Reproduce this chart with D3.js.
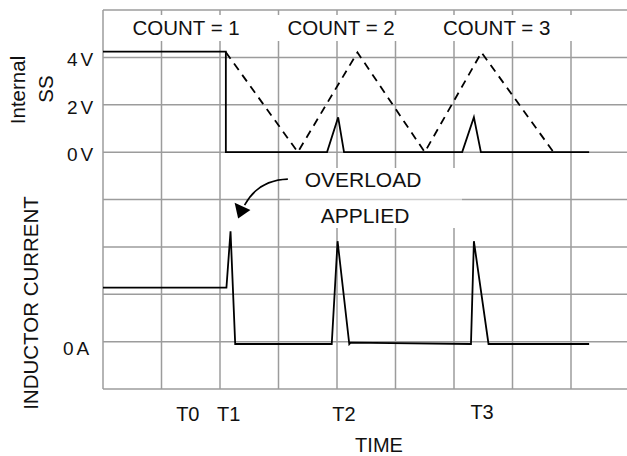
<!DOCTYPE html>
<html>
<head>
<meta charset="utf-8">
<script src="https://cdn.jsdelivr.net/npm/d3@7"></script>
<style>
  body { margin: 0; background: #fff; }
  svg text { font-family: "Liberation Sans", Arial, sans-serif; fill: #111; }
</style>
</head>
<body>
<div id="chart"></div>
<script>
// time is measured in grid columns, vertical position in grid rows
var ssTime      = [0, 2.10, 2.10, 3.83, 4.02, 4.12, 6.14, 6.34, 6.46, 8.31];
var ssVolts     = [4.24, 4.24, 0, 0, 1.47, 0, 0, 1.47, 0, 0];
var rampTime    = [2.10, 3.33, 4.35, 5.50, 6.47, 7.73];
var rampVolts   = [4.22, 0, 4.21, 0, 4.21, -0.1];
var iTime       = [0, 2.11, 2.18, 2.26, 3.91, 4.01, 4.21, 4.23, 6.29, 6.34, 6.59, 8.31];
var iAmps       = [1.14, 1.14, 2.33, -0.05, -0.05, 2.12, -0.05, -0.02, -0.05, 2.12, -0.05, -0.05];
var voltTicks   = [0, 2, 4];
var voltLabels  = ["0V", "2V", "4V"];
var ampTicks    = [0];
var ampLabels   = ["0A"];
var timeLabels  = ["T0", "T1", "T2", "T3"];
var timeTicks   = [1.45, 2.15, 4.12, 6.48];
var countLabels = ["COUNT = 1", "COUNT = 2", "COUNT = 3"];
var countTimes  = [1.42, 4.07, 6.73];
// overload arrow: start, control, end of curve, then head (left, right, tip)
var arrowT = [3.16, 2.65, 2.42, 2.25, 2.52, 2.31];
var arrowR = [4.43, 4.41, 3.88, 3.93, 3.78, 3.60];

var W = 627, H = 456;
var svg = d3.select("#chart").append("svg").attr("width", W).attr("height", H);

var x = d3.scaleLinear().domain([0, 9]).range([103, 629.5]);
var row = d3.scaleLinear().domain([0, 8]).range([389, 10]);
var volt = d3.scaleLinear().domain([0, 4]).range([row(5), row(7)]);
var amp = d3.scaleLinear().domain([0, 1]).range([row(1), row(2)]);

var grid = svg.append("g").attr("stroke", "#9c9c9c").attr("stroke-width", 1.5);
grid.selectAll("line.h").data(d3.range(0, 9)).enter().append("line")
  .attr("x1", x(0)).attr("x2", x(9))
  .attr("y1", function(d) { return row(d); }).attr("y2", function(d) { return row(d); });
grid.selectAll("line.v").data(d3.range(0, 9)).enter().append("line")
  .attr("x1", function(d) { return x(d); }).attr("x2", function(d) { return x(d); })
  .attr("y1", row(8)).attr("y2", row(0));

// white bands behind the labels
svg.append("rect").attr("x", x(0) + 2).attr("y", row(8) + 5)
  .attr("width", W).attr("height", 26).attr("fill", "#fff");
svg.append("rect").attr("x", 290).attr("y", 168)
  .attr("width", 172).attr("height", 60).attr("fill", "#fff");
svg.append("line").attr("x1", 290).attr("x2", 462)
  .attr("y1", row(4)).attr("y2", row(4))
  .attr("stroke", "#cfcfcf").attr("stroke-width", 1.4);

// dashed ramp
var ramp = d3.line()
  .x(function(d, i) { return x(rampTime[i]); })
  .y(function(d) { return volt(d); });
svg.append("path").attr("d", ramp(rampVolts))
  .attr("fill", "none").attr("stroke", "#000").attr("stroke-width", 1.8)
  .attr("stroke-dasharray", "8,6");

var ss = d3.line()
  .x(function(d, i) { return x(ssTime[i]); })
  .y(function(d) { return volt(d); });
svg.append("path").attr("d", ss(ssVolts))
  .attr("fill", "none").attr("stroke", "#000").attr("stroke-width", 1.8);

var cur = d3.line()
  .x(function(d, i) { return x(iTime[i]); })
  .y(function(d) { return amp(d); });
svg.append("path").attr("d", cur(iAmps))
  .attr("fill", "none").attr("stroke", "#000").attr("stroke-width", 1.8);

// arrow
var p = d3.path();
p.moveTo(x(arrowT[0]), row(arrowR[0]));
p.quadraticCurveTo(x(arrowT[1]), row(arrowR[1]), x(arrowT[2]), row(arrowR[2]));
svg.append("path").attr("d", p.toString())
  .attr("fill", "none").attr("stroke", "#000").attr("stroke-width", 1.6);
svg.append("polygon")
  .attr("points", [3, 4, 5].map(function(i) { return x(arrowT[i]) + "," + row(arrowR[i]); }).join(" "))
  .attr("fill", "#000");

// texts
svg.selectAll("text.count").data(countLabels).enter().append("text")
  .attr("x", function(d, i) { return x(countTimes[i]); }).attr("y", 35)
  .attr("text-anchor", "middle").attr("font-size", 20.5).text(function(d) { return d; });

svg.selectAll("text.volt").data(voltTicks).enter().append("text")
  .attr("x", 67).attr("y", function(d) { return volt(d) + 9; })
  .attr("font-size", 19).attr("letter-spacing", 3)
  .text(function(d, i) { return voltLabels[i]; });

svg.selectAll("text.amp").data(ampTicks).enter().append("text")
  .attr("x", 63).attr("y", function(d) { return amp(d) + 13; })
  .attr("font-size", 19).attr("letter-spacing", 3)
  .text(function(d, i) { return ampLabels[i]; });

svg.selectAll("text.time").data(timeLabels).enter().append("text")
  .attr("x", function(d, i) { return x(timeTicks[i]); })
  .attr("y", function(d, i) { return i == 3 ? 419 : 421; })
  .attr("text-anchor", "middle").attr("font-size", 20).text(function(d) { return d; });

svg.append("text").attr("x", 379).attr("y", 452)
  .attr("text-anchor", "middle").attr("font-size", 20).text("TIME");

svg.append("text").attr("x", 363).attr("y", 187)
  .attr("text-anchor", "middle").attr("font-size", 21).text("OVERLOAD");
svg.append("text").attr("x", 365).attr("y", 223)
  .attr("text-anchor", "middle").attr("font-size", 21).text("APPLIED");

svg.append("text").attr("transform", "translate(25,90) rotate(-90)")
  .attr("text-anchor", "middle").attr("font-size", 20.5).text("Internal");
svg.append("text").attr("transform", "translate(53,89) rotate(-90)")
  .attr("text-anchor", "middle").attr("font-size", 20.5).text("SS");
svg.append("text").attr("transform", "translate(38,303) rotate(-90)")
  .attr("text-anchor", "middle").attr("font-size", 20.5).text("INDUCTOR CURRENT");
</script>
</body>
</html>
